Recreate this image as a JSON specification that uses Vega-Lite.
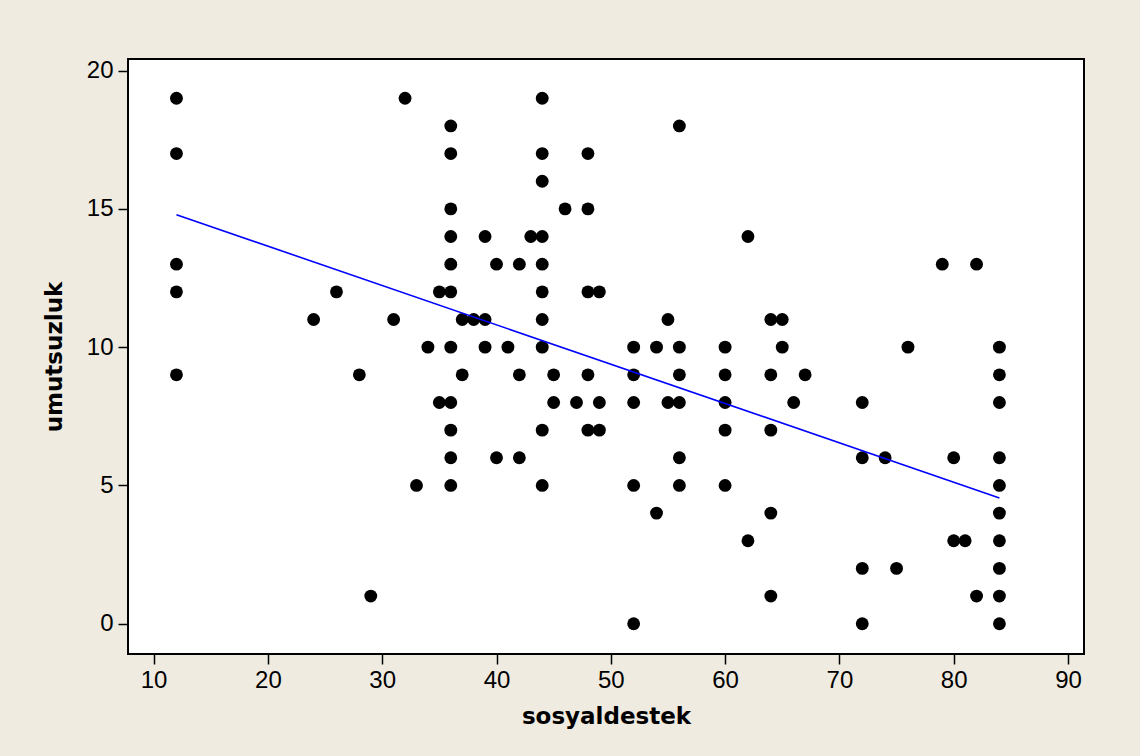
{
  "$schema": "https://vega.github.io/schema/vega-lite/v6.json",
  "width": 956,
  "height": 595,
  "autosize": {"type": "none"},
  "padding": {"left": 128, "top": 59, "right": 56, "bottom": 102},
  "background": "#EFEBE1",
  "config": {
    "view": {"stroke": "#000000", "strokeWidth": 2, "fill": "#FFFFFF"},
    "axis": {
      "domain": false,
      "grid": false,
      "tickColor": "#000000",
      "tickWidth": 1.5,
      "tickSize": 10,
      "labelColor": "#000000",
      "labelFont": "Liberation Sans",
      "labelFontSize": 24,
      "titleColor": "#000000",
      "titleFont": "DejaVu Sans",
      "titleFontSize": 23,
      "titleFontWeight": "bold"
    }
  },
  "datasets": {
    "points": [
      {"sosyaldestek": 12, "umutsuzluk": 19}, {"sosyaldestek": 12, "umutsuzluk": 17}, {"sosyaldestek": 12, "umutsuzluk": 13}, {"sosyaldestek": 12, "umutsuzluk": 12}, {"sosyaldestek": 12, "umutsuzluk": 9},
      {"sosyaldestek": 24, "umutsuzluk": 11}, {"sosyaldestek": 26, "umutsuzluk": 12}, {"sosyaldestek": 28, "umutsuzluk": 9}, {"sosyaldestek": 29, "umutsuzluk": 1}, {"sosyaldestek": 31, "umutsuzluk": 11}, {"sosyaldestek": 32, "umutsuzluk": 19}, {"sosyaldestek": 33, "umutsuzluk": 5}, {"sosyaldestek": 34, "umutsuzluk": 10},
      {"sosyaldestek": 35, "umutsuzluk": 12}, {"sosyaldestek": 35, "umutsuzluk": 8},
      {"sosyaldestek": 36, "umutsuzluk": 18}, {"sosyaldestek": 36, "umutsuzluk": 17}, {"sosyaldestek": 36, "umutsuzluk": 15}, {"sosyaldestek": 36, "umutsuzluk": 14}, {"sosyaldestek": 36, "umutsuzluk": 13}, {"sosyaldestek": 36, "umutsuzluk": 12}, {"sosyaldestek": 36, "umutsuzluk": 10}, {"sosyaldestek": 36, "umutsuzluk": 8}, {"sosyaldestek": 36, "umutsuzluk": 7}, {"sosyaldestek": 36, "umutsuzluk": 6}, {"sosyaldestek": 36, "umutsuzluk": 5},
      {"sosyaldestek": 37, "umutsuzluk": 11}, {"sosyaldestek": 37, "umutsuzluk": 9}, {"sosyaldestek": 38, "umutsuzluk": 11}, {"sosyaldestek": 39, "umutsuzluk": 14}, {"sosyaldestek": 39, "umutsuzluk": 11}, {"sosyaldestek": 39, "umutsuzluk": 10},
      {"sosyaldestek": 40, "umutsuzluk": 13}, {"sosyaldestek": 40, "umutsuzluk": 6}, {"sosyaldestek": 41, "umutsuzluk": 10}, {"sosyaldestek": 42, "umutsuzluk": 13}, {"sosyaldestek": 42, "umutsuzluk": 9}, {"sosyaldestek": 42, "umutsuzluk": 6}, {"sosyaldestek": 43, "umutsuzluk": 14},
      {"sosyaldestek": 44, "umutsuzluk": 19}, {"sosyaldestek": 44, "umutsuzluk": 17}, {"sosyaldestek": 44, "umutsuzluk": 16}, {"sosyaldestek": 44, "umutsuzluk": 14}, {"sosyaldestek": 44, "umutsuzluk": 13}, {"sosyaldestek": 44, "umutsuzluk": 12}, {"sosyaldestek": 44, "umutsuzluk": 11}, {"sosyaldestek": 44, "umutsuzluk": 10}, {"sosyaldestek": 44, "umutsuzluk": 7}, {"sosyaldestek": 44, "umutsuzluk": 5},
      {"sosyaldestek": 45, "umutsuzluk": 9}, {"sosyaldestek": 45, "umutsuzluk": 8}, {"sosyaldestek": 46, "umutsuzluk": 15}, {"sosyaldestek": 47, "umutsuzluk": 8},
      {"sosyaldestek": 48, "umutsuzluk": 17}, {"sosyaldestek": 48, "umutsuzluk": 15}, {"sosyaldestek": 48, "umutsuzluk": 12}, {"sosyaldestek": 48, "umutsuzluk": 9}, {"sosyaldestek": 48, "umutsuzluk": 7},
      {"sosyaldestek": 49, "umutsuzluk": 12}, {"sosyaldestek": 49, "umutsuzluk": 8}, {"sosyaldestek": 49, "umutsuzluk": 7},
      {"sosyaldestek": 52, "umutsuzluk": 10}, {"sosyaldestek": 52, "umutsuzluk": 9}, {"sosyaldestek": 52, "umutsuzluk": 8}, {"sosyaldestek": 52, "umutsuzluk": 5}, {"sosyaldestek": 52, "umutsuzluk": 0},
      {"sosyaldestek": 54, "umutsuzluk": 10}, {"sosyaldestek": 54, "umutsuzluk": 4}, {"sosyaldestek": 55, "umutsuzluk": 11}, {"sosyaldestek": 55, "umutsuzluk": 8},
      {"sosyaldestek": 56, "umutsuzluk": 18}, {"sosyaldestek": 56, "umutsuzluk": 10}, {"sosyaldestek": 56, "umutsuzluk": 9}, {"sosyaldestek": 56, "umutsuzluk": 8}, {"sosyaldestek": 56, "umutsuzluk": 6}, {"sosyaldestek": 56, "umutsuzluk": 5},
      {"sosyaldestek": 60, "umutsuzluk": 10}, {"sosyaldestek": 60, "umutsuzluk": 9}, {"sosyaldestek": 60, "umutsuzluk": 8}, {"sosyaldestek": 60, "umutsuzluk": 7}, {"sosyaldestek": 60, "umutsuzluk": 5},
      {"sosyaldestek": 62, "umutsuzluk": 14}, {"sosyaldestek": 62, "umutsuzluk": 3},
      {"sosyaldestek": 64, "umutsuzluk": 11}, {"sosyaldestek": 64, "umutsuzluk": 9}, {"sosyaldestek": 64, "umutsuzluk": 7}, {"sosyaldestek": 64, "umutsuzluk": 4}, {"sosyaldestek": 64, "umutsuzluk": 1},
      {"sosyaldestek": 65, "umutsuzluk": 11}, {"sosyaldestek": 65, "umutsuzluk": 10}, {"sosyaldestek": 66, "umutsuzluk": 8}, {"sosyaldestek": 67, "umutsuzluk": 9},
      {"sosyaldestek": 72, "umutsuzluk": 8}, {"sosyaldestek": 72, "umutsuzluk": 6}, {"sosyaldestek": 72, "umutsuzluk": 2}, {"sosyaldestek": 72, "umutsuzluk": 0},
      {"sosyaldestek": 74, "umutsuzluk": 6}, {"sosyaldestek": 75, "umutsuzluk": 2}, {"sosyaldestek": 76, "umutsuzluk": 10}, {"sosyaldestek": 79, "umutsuzluk": 13}, {"sosyaldestek": 80, "umutsuzluk": 6}, {"sosyaldestek": 80, "umutsuzluk": 3}, {"sosyaldestek": 81, "umutsuzluk": 3}, {"sosyaldestek": 82, "umutsuzluk": 13}, {"sosyaldestek": 82, "umutsuzluk": 1},
      {"sosyaldestek": 84, "umutsuzluk": 10}, {"sosyaldestek": 84, "umutsuzluk": 9}, {"sosyaldestek": 84, "umutsuzluk": 8}, {"sosyaldestek": 84, "umutsuzluk": 6}, {"sosyaldestek": 84, "umutsuzluk": 5}, {"sosyaldestek": 84, "umutsuzluk": 4}, {"sosyaldestek": 84, "umutsuzluk": 3}, {"sosyaldestek": 84, "umutsuzluk": 2}, {"sosyaldestek": 84, "umutsuzluk": 1}, {"sosyaldestek": 84, "umutsuzluk": 0}
    ],
    "fit": [
      {"sosyaldestek": 12, "umutsuzluk": 14.79},
      {"sosyaldestek": 84, "umutsuzluk": 4.55}
    ]
  },
  "layer": [
    {
      "data": {"name": "points"},
      "mark": {"type": "circle", "size": 165, "color": "#000000", "opacity": 1},
      "encoding": {
        "x": {
          "field": "sosyaldestek", "type": "quantitative",
          "scale": {"domain": [7.76, 91.4], "nice": false, "zero": false},
          "axis": {"values": [10, 20, 30, 40, 50, 60, 70, 80, 90], "title": "sosyaldestek", "labelPadding": 4, "titlePadding": 13}
        },
        "y": {
          "field": "umutsuzluk", "type": "quantitative",
          "scale": {"domain": [-1.095, 20.42], "nice": false, "zero": false},
          "axis": {"values": [0, 5, 10, 15, 20], "title": "umutsuzluk", "labelPadding": 5, "titlePadding": 20}
        }
      }
    },
    {
      "data": {"name": "fit"},
      "mark": {"type": "line", "color": "#0000FF", "strokeWidth": 1.6},
      "encoding": {
        "x": {"field": "sosyaldestek", "type": "quantitative"},
        "y": {"field": "umutsuzluk", "type": "quantitative"}
      }
    }
  ]
}
